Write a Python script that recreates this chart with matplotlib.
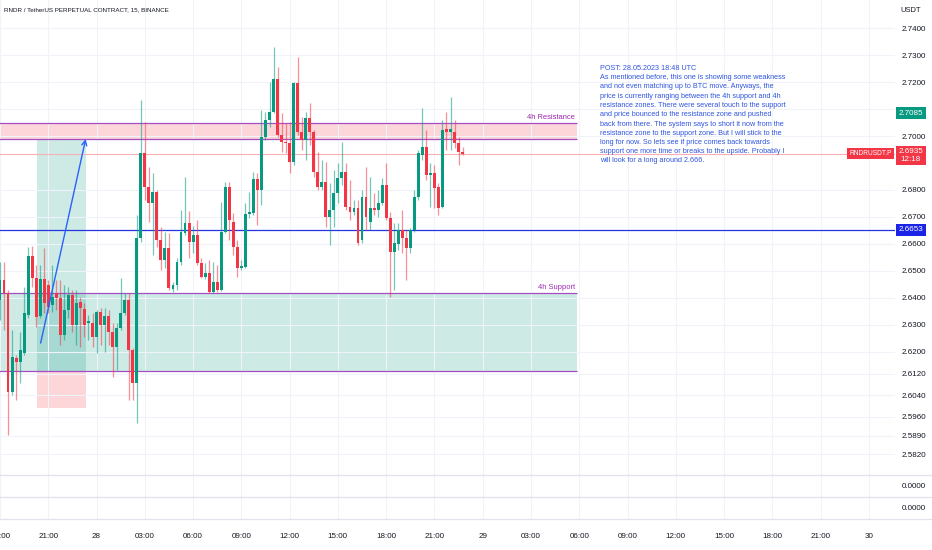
import matplotlib
matplotlib.use("Agg")
import matplotlib.pyplot as plt
import matplotlib.transforms as mtransforms
import numpy as np
import pandas as pd

# ── 15m candles, RNDR/USDT perp, starting 27 May 2023 18:00 ──────────────────
start = pd.Timestamp("2023-05-27 18:00")
opens = [
    2.6393, 2.6467, 2.6419, 2.6052, 2.6178, 2.6163, 2.6196, 2.6337, 2.6556, 2.6474, 2.6333, 2.6470,
    2.6448, 2.6374, 2.6419, 2.6400, 2.6263, 2.6356, 2.6411, 2.6300, 2.6385, 2.6359, 2.6307, 2.6307,
    2.6256, 2.6348, 2.6300, 2.6333, 2.6274, 2.6219, 2.6289, 2.6344, 2.6393, 2.6207, 2.6085, 2.6622,
    2.6937, 2.6811, 2.6752, 2.6793, 2.6615, 2.6541, 2.6585, 2.6433, 2.6448, 2.6533, 2.6641, 2.6678,
    2.6607, 2.6633, 2.6530, 2.6478, 2.6493, 2.6422, 2.6459, 2.6430, 2.6644, 2.6811, 2.6681, 2.6589,
    2.6511, 2.6515, 2.6711, 2.6715, 2.6841, 2.6800, 2.6996, 2.7059, 2.7089, 2.7211, 2.7004, 2.6978,
    2.6974, 2.6904, 2.7196, 2.7015, 2.6985, 2.7067, 2.7015, 2.6867, 2.6811, 2.6830, 2.6700, 2.6726,
    2.6789, 2.6844, 2.6867, 2.6737, 2.6718, 2.6733, 2.6615, 2.6774, 2.6681, 2.6733, 2.6726, 2.6752,
    2.6819, 2.6696, 2.6570, 2.6600, 2.6652, 2.6622, 2.6585, 2.6652, 2.6774, 2.6930, 2.6959, 2.6856,
    2.6863, 2.6811, 2.6737, 2.7026, 2.7015, 2.7015, 2.6974, 2.6941,
]
highs = [
    2.6533, 2.6533, 2.6430, 2.6281, 2.6189, 2.6274, 2.6441, 2.6589, 2.6593, 2.6522, 2.6522, 2.6585,
    2.6467, 2.6522, 2.6467, 2.6467, 2.6448, 2.6441, 2.6430, 2.6430, 2.6404, 2.6382, 2.6337, 2.6344,
    2.6356, 2.6363, 2.6363, 2.6356, 2.6307, 2.6307, 2.6474, 2.6419, 2.6419, 2.6215, 2.6707, 2.7133,
    2.7052, 2.6885, 2.6863, 2.6800, 2.6663, 2.6644, 2.6641, 2.6459, 2.6548, 2.6726, 2.6848, 2.6722,
    2.6667, 2.6689, 2.6548, 2.6530, 2.6541, 2.6533, 2.6522, 2.6756, 2.6830, 2.6830, 2.6715, 2.6615,
    2.6541, 2.6752, 2.6793, 2.6867, 2.6863, 2.7096, 2.7089, 2.7200, 2.7330, 2.7256, 2.7085, 2.7048,
    2.7052, 2.7200, 2.7293, 2.7070, 2.7089, 2.7122, 2.7022, 2.6941, 2.6911, 2.6904, 2.6826, 2.6874,
    2.6900, 2.6978, 2.6900, 2.6837, 2.6763, 2.6763, 2.6800, 2.6885, 2.6848, 2.6789, 2.6800, 2.6844,
    2.6900, 2.6718, 2.6678, 2.6678, 2.6726, 2.6652, 2.6659, 2.6800, 2.6948, 2.7104, 2.7022, 2.6900,
    2.6893, 2.6826, 2.7059, 2.7089, 2.7144, 2.7059, 2.6996, 2.6959,
]
lows = [
    2.6319, 2.6281, 2.5893, 2.6041, 2.6022, 2.6085, 2.6189, 2.6326, 2.6441, 2.6293, 2.6326, 2.6344,
    2.6344, 2.6348, 2.6356, 2.6226, 2.6244, 2.6326, 2.6274, 2.6226, 2.6219, 2.6256, 2.6244, 2.6219,
    2.6196, 2.6226, 2.6200, 2.6226, 2.6107, 2.6133, 2.6281, 2.6337, 2.6022, 2.6022, 2.5937, 2.6607,
    2.6763, 2.6681, 2.6559, 2.6589, 2.6504, 2.6511, 2.6430, 2.6422, 2.6430, 2.6522, 2.6633, 2.6548,
    2.6567, 2.6522, 2.6474, 2.6470, 2.6419, 2.6419, 2.6422, 2.6426, 2.6641, 2.6615, 2.6559, 2.6478,
    2.6504, 2.6511, 2.6696, 2.6707, 2.6670, 2.6744, 2.6985, 2.7033, 2.7085, 2.6996, 2.6941, 2.6937,
    2.6863, 2.6893, 2.7004, 2.6948, 2.6911, 2.6967, 2.6848, 2.6800, 2.6800, 2.6663, 2.6596, 2.6663,
    2.6752, 2.6819, 2.6726, 2.6689, 2.6707, 2.6596, 2.6604, 2.6652, 2.6652, 2.6707, 2.6700, 2.6744,
    2.6689, 2.6404, 2.6430, 2.6578, 2.6567, 2.6467, 2.6567, 2.6644, 2.6763, 2.6911, 2.6837, 2.6737,
    2.6733, 2.6707, 2.6733, 2.6948, 2.6948, 2.6956, 2.6893, 2.6930,
]
closes = [
    2.6467, 2.6419, 2.6052, 2.6181, 2.6163, 2.6207, 2.6344, 2.6556, 2.6474, 2.6330, 2.6470, 2.6382,
    2.6367, 2.6404, 2.6400, 2.6263, 2.6356, 2.6411, 2.6300, 2.6382, 2.6363, 2.6300, 2.6315, 2.6256,
    2.6348, 2.6300, 2.6333, 2.6274, 2.6219, 2.6289, 2.6344, 2.6393, 2.6207, 2.6085, 2.6622, 2.6937,
    2.6811, 2.6752, 2.6793, 2.6615, 2.6541, 2.6585, 2.6437, 2.6448, 2.6533, 2.6644, 2.6678, 2.6607,
    2.6633, 2.6530, 2.6478, 2.6493, 2.6422, 2.6459, 2.6430, 2.6644, 2.6811, 2.6689, 2.6589, 2.6511,
    2.6518, 2.6711, 2.6718, 2.6841, 2.6800, 2.6996, 2.7059, 2.7089, 2.7211, 2.7004, 2.6978, 2.6974,
    2.6904, 2.7196, 2.7015, 2.6985, 2.7067, 2.7015, 2.6867, 2.6811, 2.6830, 2.6700, 2.6726, 2.6789,
    2.6844, 2.6867, 2.6737, 2.6718, 2.6733, 2.6604, 2.6774, 2.6700, 2.6733, 2.6726, 2.6752, 2.6819,
    2.6696, 2.6570, 2.6604, 2.6652, 2.6622, 2.6585, 2.6652, 2.6774, 2.6937, 2.6959, 2.6856, 2.6863,
    2.6807, 2.6733, 2.7022, 2.7015, 2.7026, 2.6974, 2.6941, 2.6935,
]

# drawn levels / zones
resistance = (2.6989, 2.7050)
support = (2.6130, 2.6419)
zone_end = 143.5                      # bar index where both zones stop
blue_level = 2.6653
badge_level = 2.7085
long_tool = dict(x0=9.3, x1=21.3, entry=2.6130, target=2.6989, stop=2.5993)
arrow_from = (10.1, 2.6233)
arrow_to = (21.3, 2.6989)

price_ticks = [2.74, 2.73, 2.72, 2.71, 2.70, 2.68, 2.67, 2.66, 2.65, 2.64, 2.63, 2.62,
               2.612, 2.604, 2.596, 2.589, 2.582]

note = ("POST: 28.05.2023 18:48 UTC\n"
        "As mentioned before, this one is showing some weakness\n"
        "and not even matching up to BTC move. Anyways, the\n"
        "price is currently ranging between the 4h support and 4h\n"
        "resistance zones. There were several touch to the support\n"
        "and price bounced to the resistance zone and pushed\n"
        "back from there. The system says to short it now from the\n"
        "resistance zone to the support zone. But I will stick to the\n"
        "long for now. So lets see if price comes back towards\n"
        "support one more time or breaks to the upside. Probably I\n"
        "will look for a long around 2.666.")

UP, DOWN = "#089981", "#f23645"
PURPLE = "#9c27b0"
BLUE = "#2434e0"
TXT = "#131722"
GRID = "#f0f3fa"

plt.rcParams["font.family"] = ["Liberation Sans Narrow", "Liberation Sans", "DejaVu Sans"]

W, H = 932, 550
fig = plt.figure(figsize=(W / 100, H / 100), dpi=100)
ax = fig.add_axes([0, 1 - 475 / H, 895 / W, 475 / H])
p1 = fig.add_axes([0, 1 - 497 / H, 895 / W, 22 / H], sharex=ax)
p2 = fig.add_axes([0, 1 - 519 / H, 895 / W, 22 / H], sharex=ax)

o, h, l, c = map(np.asarray, (opens, highs, lows, closes))
x = np.arange(len(o))
col = np.where(c >= o, UP, DOWN)

# zones
for lo, hi, fc in ((resistance[0], resistance[1], "#f23645"), (support[0], support[1], "#089981")):
    ax.fill_between([-5, zone_end], lo, hi, color=fc, alpha=0.2, lw=0, zorder=1)
    ax.hlines([lo, hi], -5, zone_end, color="#a64dc4", lw=0.9, zorder=2)
ax.text(zone_end - 0.5, resistance[1] + 0.0006, "4h Resistance", ha="right", va="bottom",
        fontsize=5.4, color=PURPLE)
ax.text(zone_end - 0.5, support[1] + 0.0006, "4h Support", ha="right", va="bottom",
        fontsize=5.4, color=PURPLE)

# long position tool
lt = long_tool
ax.fill_between([lt["x0"], lt["x1"]], lt["entry"], lt["target"], color="#089981", alpha=0.2, lw=0, zorder=1)
ax.fill_between([lt["x0"], lt["x1"]], lt["stop"], lt["entry"], color="#f23645", alpha=0.2, lw=0, zorder=1)
ax.annotate("", xy=arrow_to, xytext=arrow_from,
            arrowprops=dict(arrowstyle="->", color="#2962ff", lw=1.0, shrinkA=0, shrinkB=0,
                            mutation_scale=9), zorder=5)

# horizontal lines
ax.axhline(blue_level, color=BLUE, lw=0.9, zorder=2)
ax.axhline(c[-1], color="#f7b0b5", lw=0.8, zorder=2)

# candles
ax.vlines(x, l, h, colors=col, lw=0.9, alpha=0.55, zorder=3)
body = np.maximum(np.abs(c - o), 0.0004)
ax.bar(x, body, bottom=np.minimum(o, c), width=0.72, color=col, lw=0, zorder=4)

# time axis
ticks = pd.date_range(start, "2023-05-30 00:00", freq="3h")
tpos = (ticks - start) / pd.Timedelta(minutes=15)
tlab = [t.strftime("%d").lstrip("0") if t.hour == 0 else t.strftime("%H:%M") for t in ticks]

ax.set_xlim(0.15, 222.5)
ax.set_ylim(2.5744, 2.7504)
ax.set_yticks(price_ticks)
ax.set_yticklabels([f"{v:.4f}" for v in price_ticks])
ax.yaxis.tick_right()
ax.tick_params(axis="y", length=0, pad=4.5, labelsize=5.8, labelcolor=TXT)
ax.tick_params(axis="x", length=0, labelbottom=False)
ax.set_xticks(tpos)
ax.grid(color=GRID, lw=0.8, zorder=0)

for pane in (p1, p2):
    pane.set_ylim(-1, 1)
    pane.set_yticks([0])
    pane.set_yticklabels(["0.0000"])
    pane.yaxis.tick_right()
    pane.tick_params(axis="y", length=0, pad=4.5, labelsize=5.8, labelcolor=TXT)
    pane.tick_params(axis="x", length=0, labelbottom=False)
    pane.grid(axis="x", color=GRID, lw=0.8)
    pane.grid(axis="y", visible=False)
p2.set_xticks(tpos)
p2.set_xticklabels(tlab)
p2.tick_params(axis="x", labelbottom=True, pad=10, labelsize=5.8, labelcolor=TXT)

for a in (ax, p1, p2):
    for s in a.spines.values():
        s.set_visible(False)
for yy in (475, 497, 519):
    fig.add_artist(plt.Line2D([0, 1], [1 - yy / H] * 2, color="#e0e3eb", lw=0.9))

# price-axis badges
bt = mtransforms.blended_transform_factory(fig.transFigure, ax.transData)
xb = 911 / W
ax.text(xb, badge_level, f"{badge_level:.4f}", transform=bt, ha="center", va="center",
        fontsize=5.8, color="white", clip_on=False, zorder=10,
        bbox=dict(boxstyle="square,pad=0.3", fc=UP, ec="none"))
ax.text(xb, blue_level, f"{blue_level:.4f}", transform=bt, ha="center", va="center",
        fontsize=5.8, color="white", clip_on=False, zorder=10,
        bbox=dict(boxstyle="square,pad=0.3", fc="#1a23e6", ec="none"))
ax.annotate(f"{c[-1]:.4f}\n12:18", xy=(xb, c[-1]), xycoords=bt, xytext=(0, 4),
            textcoords="offset points", ha="center", va="top", fontsize=5.8, color="white",
            linespacing=1.1, annotation_clip=False, zorder=10,
            bbox=dict(boxstyle="square,pad=0.3", fc=DOWN, ec="none"))
ax.text(892 / W, c[-1], "RNDRUSDT.P", transform=bt, ha="right", va="center",
        fontsize=4.8, color="white", clip_on=False, zorder=10,
        bbox=dict(boxstyle="square,pad=0.35", fc=DOWN, ec="none"))

# header texts
fig.text(4 / W, 1 - 10 / H, "RNDR / TetherUS PERPETUAL CONTRACT, 15, BINANCE", ha="left",
         va="center", fontsize=4.5, color=TXT)
fig.text(911 / W, 1 - 10 / H, "USDT", ha="center", va="center", fontsize=5.4, color=TXT)
fig.text(600 / W, 1 - 65 / H, note, ha="left", va="top", fontsize=5.2, color="#2f55e0",
         linespacing=1.45)

fig.savefig("out.png", dpi=100, facecolor="white")
